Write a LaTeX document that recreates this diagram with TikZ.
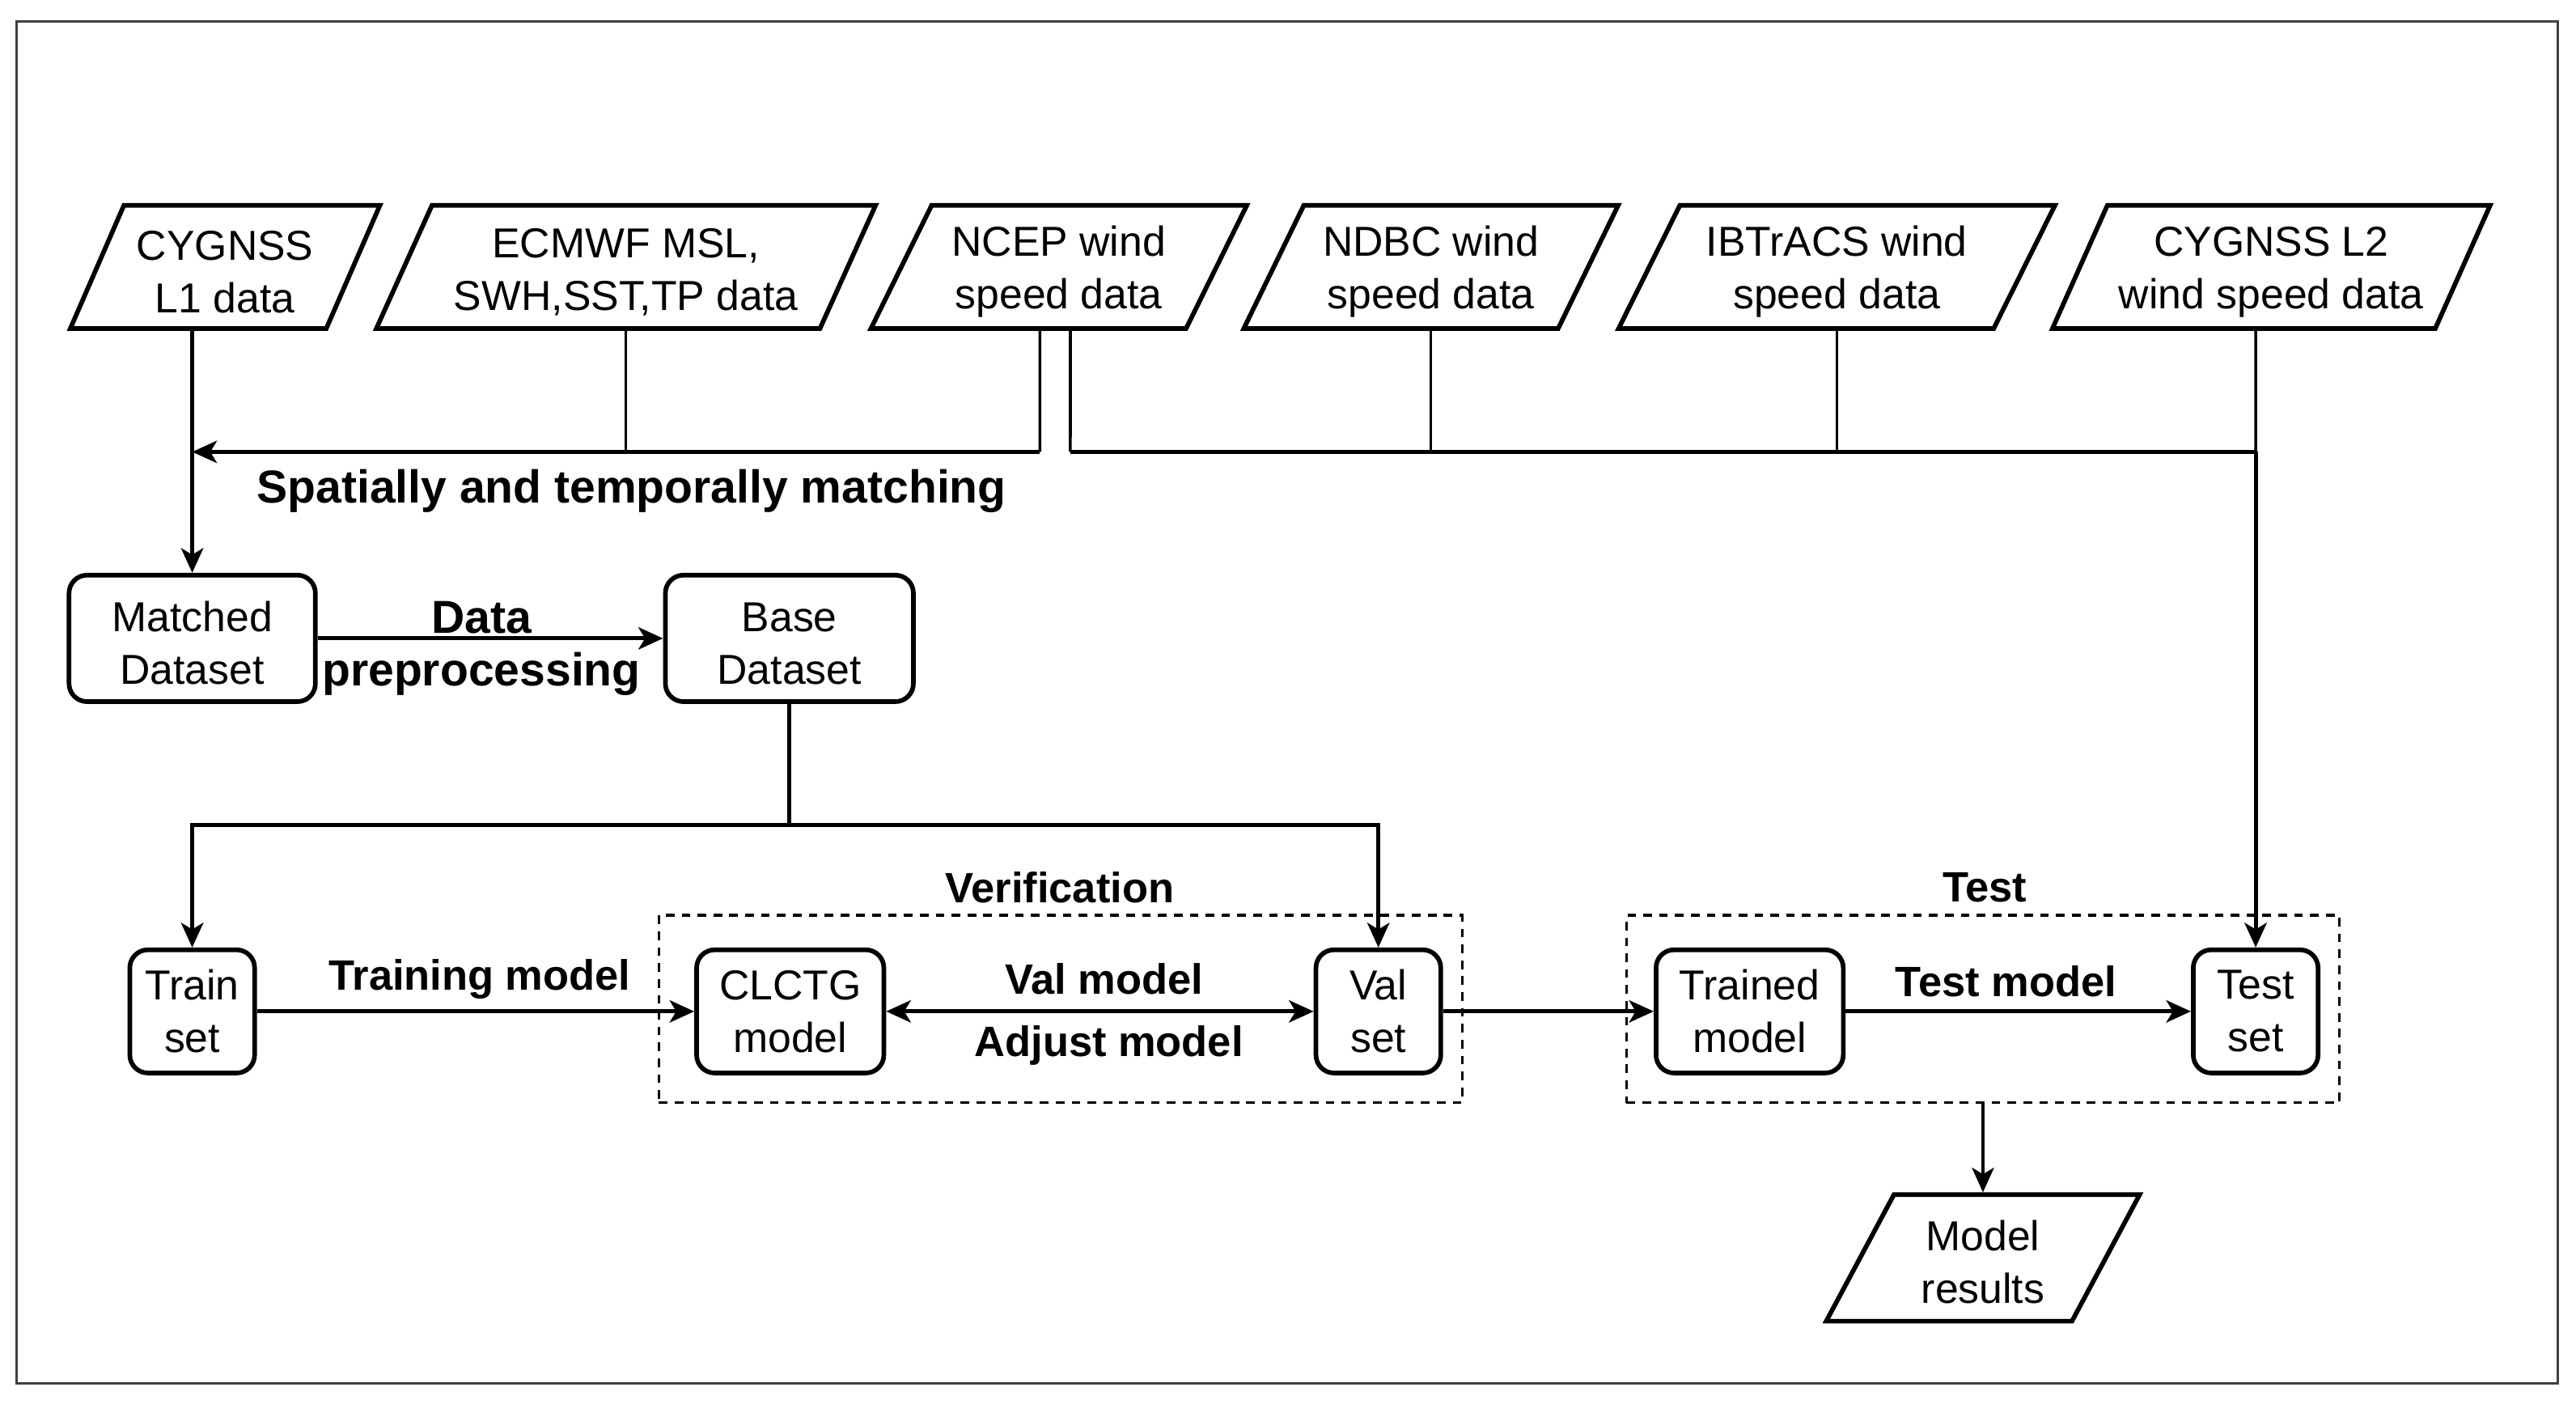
\documentclass[tikz,border=0pt]{standalone}
\usepackage{fontspec}
\setmainfont{Liberation Sans}
\usetikzlibrary{shapes.geometric,arrows.meta}
\newcommand\ls{\rule{0pt}{13.5pt}}
\begin{document}
\begin{tikzpicture}[x=0.02cm,y=-0.02cm,
  font=\fontsize{14.5}{18.2}\selectfont,
  para/.style={trapezium, trapezium left angle=63, trapezium right angle=117,
    trapezium stretches=true, draw, line width=1.6pt, minimum height=1.5cm,
    inner sep=0pt, align=center},
  rbox/.style={draw, rounded corners=0.22cm, line width=1.6pt, minimum height=1.5cm,
    inner sep=0pt, align=center},
  conn/.style={line width=1.4pt},
  vthin/.style={line width=1pt},
  tip/.tip={Stealth[length=0.3cm,width=0.27cm,inset=0.08cm]},
  arr/.style={-tip},
  lbl/.style={font=\fontsize{14.7}{18.2}\selectfont\bfseries, inner sep=0pt},
  biglbl/.style={font=\fontsize{16}{19}\selectfont\bfseries, inner sep=0pt},
  group/.style={draw, line width=0.9pt, dash pattern=on 3pt off 2.5pt, inner sep=0pt}
]
\useasboundingbox (0,0) rectangle (1568,854);
\draw[black!75, line width=0.8pt] (10,13) rectangle (1557,842);

% top row inputs
\node[para, minimum width=3.8cm]  (cyg1) at (137,162.5)  {\ls CYGNSS\\L1 data};
\node[para, minimum width=6.08cm] (ecm)  at (381,162.5)  {\ls ECMWF MSL,\\SWH,SST,TP data};
\node[para, minimum width=4.58cm] (ncep) at (644.5,162.5){\ls NCEP wind\\speed data};
\node[para, minimum width=4.56cm] (ndbc) at (871,162.5)  {\ls NDBC wind\\speed data};
\node[para, minimum width=5.32cm] (ibt)  at (1118,162.5) {\ls IBTrACS wind\\speed data};
\node[para, minimum width=5.34cm] (cyg2) at (1382.5,162.5){\ls CYGNSS L2\\wind speed data};

% second row
\node[rbox, minimum width=3cm, minimum height=1.54cm] (matched) at (117,388.5) {\ls Matched\\Dataset};
\node[rbox, minimum width=3.02cm, minimum height=1.54cm] (base) at (480.5,388.5) {\ls Base\\Dataset};

% third row
\node[rbox, minimum width=1.52cm] (train)   at (117,615.5)  {Train\\set};
\node[rbox, minimum width=2.28cm] (clctg)   at (481,615.5)  {CLCTG\\model};
\node[rbox, minimum width=1.52cm] (val)     at (839,615.5)  {Val\\set};
\node[rbox, minimum width=2.28cm] (trained) at (1065,615.5) {Trained\\model};
\node[rbox, minimum width=1.52cm] (testset) at (1373,615.5) {Test\\set};

% groups
\node[group, minimum width=9.78cm, minimum height=2.28cm] (verif) at (645.5,614) {};
\node[group, minimum width=8.68cm, minimum height=2.28cm] (testg) at (1207,614) {};
\node[lbl] (verifl) at (645,540) {Verification};
\node[lbl] (testl) at (1208,540) {Test};

% results
\node[para, minimum width=3.82cm, minimum height=1.54cm] (results) at (1207,765.5) {\ls Model\\results};

% junction coordinates
\coordinate (jL) at (117,275);
\coordinate (jN1) at (633,275);
\coordinate (jN2) at (651.5,275);
\coordinate (jR) at (1373,275);
\coordinate (jB) at (480.5,502);

% matching connectors
\draw[conn, arr] (matched.north |- cyg1.south) -- (matched.north);
\draw[vthin] ([xshift=-0.23cm]ncep.south) -- (jN1);
\draw[conn, arr] (jN1) -- (jL);
\draw[vthin] (ecm.south) -- (ecm.south |- jL);
\draw[vthin] ([xshift=0.14cm]ncep.south) -- (jN2);
\draw[conn] (jN2) -- (jR);
\draw[vthin] (ndbc.south) -- (ndbc.south |- jR);
\draw[vthin] (ibt.south) -- (ibt.south |- jR);
\draw[vthin] ([xshift=-0.19cm]cyg2.south) -- (jR);
\draw[conn, arr] (jR) -- (testset.north);
\node[biglbl, anchor=west] (matchl) at (156,299) {Spatially and temporally matching};

% preprocessing
\draw[conn, arr] (matched) -- (base);
\node[biglbl] (datal) at (293,376) {Data};
\node[biglbl] (prepl) at (293,410) {preprocessing};

% split
\draw[conn] (base.south) -- (jB);
\draw[conn, arr] (jB) -| (train.north);
\draw[conn, arr] (jB) -| (val.north);

% bottom flow
\draw[conn, arr] (train) -- (clctg);
\node[lbl] (trainl) at (292,596) {Training model};
\draw[conn, tip-tip] (clctg) -- (val);
\node[lbl] (vall) at (672,596) {Val model};
\node[lbl] (adjl) at (675,636) {Adjust model};
\draw[conn, arr] (val) -- (trained);
\draw[conn, arr] (trained) -- (testset);
\node[lbl] (testml) at (1221,597) {Test model};
\draw[vthin, arr] (testg.south) -- (results.north);
\end{tikzpicture}
\end{document}
